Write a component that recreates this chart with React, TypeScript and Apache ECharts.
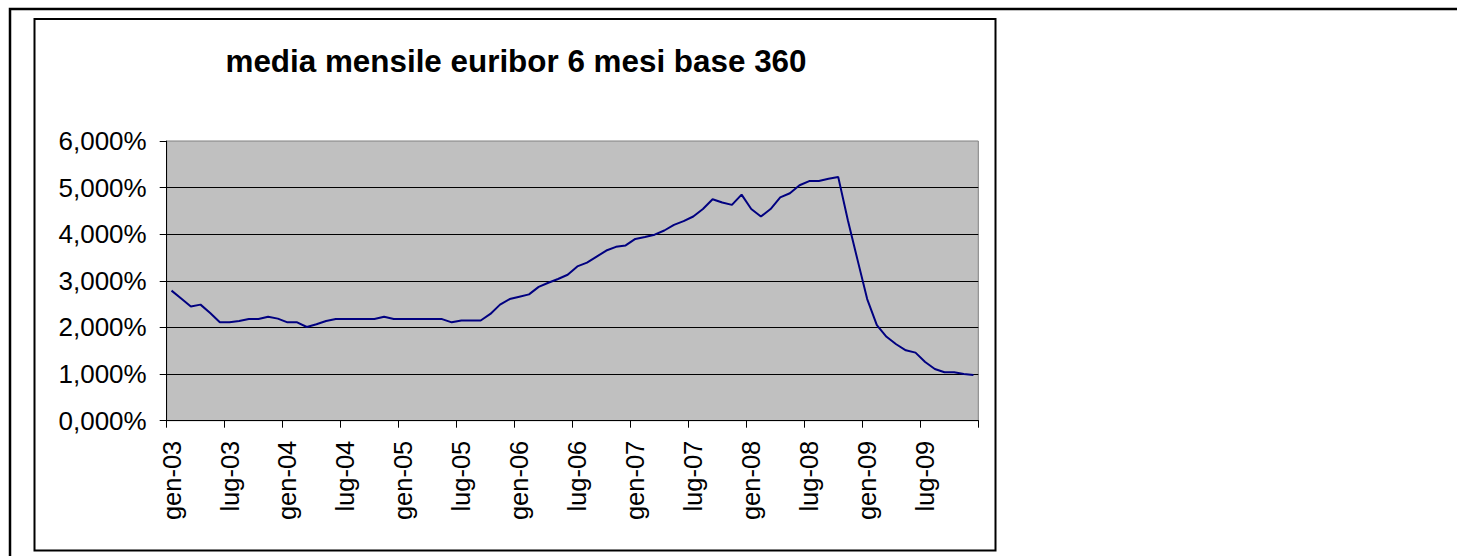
import React, { useEffect, useRef } from "react";
import * as echarts from "echarts";

const monthNames = ["gen", "feb", "mar", "apr", "mag", "giu", "lug", "ago", "set", "ott", "nov", "dic"];
const years = ["03", "04", "05", "06", "07", "08", "09"];
const categories: string[] = [];
years.forEach((y) => monthNames.forEach((m) => categories.push(`${m}-${y}`)));

const euribor6m = [
  2.79, 2.62, 2.45, 2.49, 2.31, 2.11, 2.11, 2.14, 2.18, 2.18, 2.23, 2.19,
  2.11, 2.11, 2.01, 2.07, 2.14, 2.18, 2.18, 2.18, 2.18, 2.18, 2.23, 2.18,
  2.18, 2.18, 2.18, 2.18, 2.18, 2.11, 2.15, 2.15, 2.15, 2.29, 2.49, 2.61,
  2.66, 2.71, 2.87, 2.96, 3.04, 3.13, 3.31, 3.39, 3.52, 3.65, 3.73, 3.76,
  3.90, 3.94, 3.99, 4.08, 4.20, 4.28, 4.38, 4.54, 4.75, 4.68, 4.63, 4.85,
  4.54, 4.38, 4.54, 4.79, 4.88, 5.05, 5.14, 5.14, 5.19, 5.23, 4.30, 3.45,
  2.61, 2.05, 1.80, 1.64, 1.51, 1.46, 1.26, 1.11, 1.04, 1.04, 1.00, 0.98,
];

const titleText = "media mensile euribor 6 mesi base 360";
const FONT = "'Liberation Sans', Arial, Helvetica, sans-serif";

export default function App() {
  const ref = useRef<HTMLDivElement>(null);
  useEffect(() => {
    if (!ref.current) return;
    const chart = echarts.init(ref.current, null, { renderer: "svg" });
    chart.setOption({
      animation: false,
      backgroundColor: "#ffffff",
      textStyle: { fontFamily: FONT },
      graphic: [
        {
          type: "rect",
          shape: { x: 10, y: 9, width: 3000, height: 3000 },
          style: { fill: "none", stroke: "#000", lineWidth: 2.5 },
          silent: true,
          z: -10,
        },
        {
          type: "rect",
          shape: { x: 34.5, y: 19, width: 961, height: 531.5 },
          style: { fill: "none", stroke: "#000", lineWidth: 2 },
          silent: true,
          z: -10,
        },
        {
          type: "text",
          x: 516,
          y: 61,
          style: {
            text: titleText,
            fontFamily: FONT,
            fontSize: 31.4,
            fontWeight: "bold",
            fill: "#000",
            textAlign: "center",
            textVerticalAlign: "middle",
          },
        },
      ],
      grid: {
        left: 166.7,
        top: 141,
        right: 1457 - 978.3,
        bottom: 556 - 420.7,
        show: true,
        backgroundColor: "#c0c0c0",
        borderColor: "#808080",
        borderWidth: 1,
      },
      xAxis: {
        type: "category",
        data: categories,
        boundaryGap: true,
        axisLine: { lineStyle: { color: "#000", width: 1 } },
        axisTick: { show: true, interval: 5, length: 7, lineStyle: { color: "#000" } },
        axisLabel: {
          interval: 5,
          rotate: 90,
          margin: 20,
          fontSize: 25.5,
          color: "#000",
          fontFamily: FONT,
        },
        splitLine: { show: false },
      },
      yAxis: {
        type: "value",
        min: 0,
        max: 6,
        interval: 1,
        axisLine: { show: true, lineStyle: { color: "#000", width: 1 } },
        axisTick: { show: true, length: 7, lineStyle: { color: "#000" } },
        axisLabel: {
          margin: 20,
          fontSize: 26,
          color: "#000",
          fontFamily: FONT,
          formatter: (v: number) => v.toFixed(3).replace(".", ",") + "%",
        },
        splitLine: { show: true, showMaxLine: false, lineStyle: { color: "#000", width: 1 } },
      },
      series: [
        {
          type: "line",
          data: euribor6m,
          symbol: "none",
          lineStyle: { color: "#000080", width: 2 },
        },
      ],
    });
    return () => chart.dispose();
  }, []);
  return (
    <div
      ref={ref}
      style={{ position: "fixed", left: 0, top: 0, width: 1457, height: 556 }}
    />
  );
}
